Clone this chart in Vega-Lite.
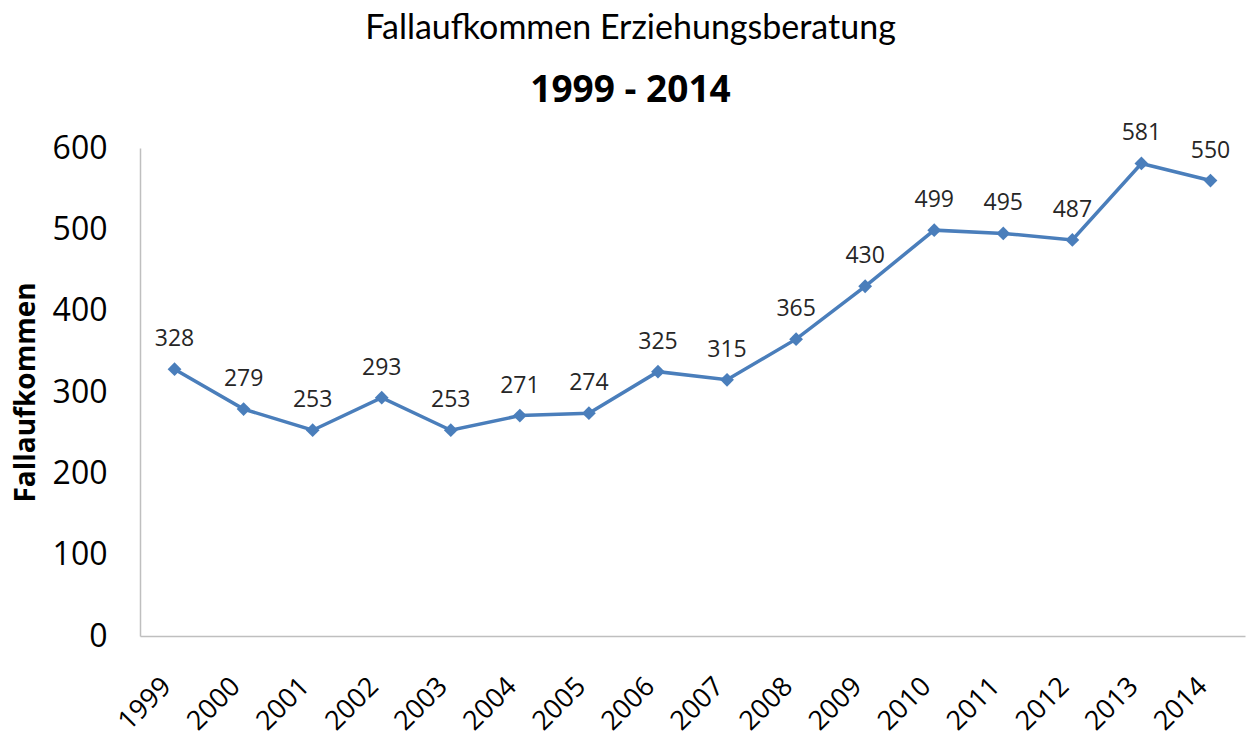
{
  "$schema": "https://vega.github.io/schema/vega-lite/v6.json",
  "autosize": {"type": "none"},
  "width": 1105,
  "height": 488,
  "padding": {"left": 140, "top": 148, "right": 7, "bottom": 102},
  "background": "white",
  "title": {
    "text": "Fallaufkommen Erziehungsberatung",
    "subtitle": "1999 - 2014",
    "anchor": "middle",
    "frame": "group",
    "dx": -62,
    "offset": 13,
    "font": "Lato",
    "fontSize": 34,
    "fontWeight": "normal",
    "color": "black",
    "subtitleFont": "Open Sans",
    "subtitleFontSize": 37,
    "subtitleFontWeight": "bold",
    "subtitleColor": "black",
    "subtitlePadding": 27
  },
  "data": {
    "values": [
      {"Jahr": "1999", "Fallaufkommen": 328, "Label": "328"},
      {"Jahr": "2000", "Fallaufkommen": 279, "Label": "279"},
      {"Jahr": "2001", "Fallaufkommen": 253, "Label": "253"},
      {"Jahr": "2002", "Fallaufkommen": 293, "Label": "293"},
      {"Jahr": "2003", "Fallaufkommen": 253, "Label": "253"},
      {"Jahr": "2004", "Fallaufkommen": 271, "Label": "271"},
      {"Jahr": "2005", "Fallaufkommen": 274, "Label": "274"},
      {"Jahr": "2006", "Fallaufkommen": 325, "Label": "325"},
      {"Jahr": "2007", "Fallaufkommen": 315, "Label": "315"},
      {"Jahr": "2008", "Fallaufkommen": 365, "Label": "365"},
      {"Jahr": "2009", "Fallaufkommen": 430, "Label": "430"},
      {"Jahr": "2010", "Fallaufkommen": 499, "Label": "499"},
      {"Jahr": "2011", "Fallaufkommen": 495, "Label": "495"},
      {"Jahr": "2012", "Fallaufkommen": 487, "Label": "487"},
      {"Jahr": "2013", "Fallaufkommen": 581, "Label": "581"},
      {"Jahr": "2014", "Fallaufkommen": 560, "Label": "550"}
    ]
  },
  "encoding": {
    "x": {
      "field": "Jahr",
      "type": "ordinal",
      "scale": {"type": "point", "padding": 0.5},
      "axis": {
        "title": null,
        "labelAngle": -45,
        "labelAlign": "right",
        "labelBaseline": "middle",
        "labelFont": "Open Sans",
        "labelFontSize": 27,
        "labelColor": "black",
        "labelPadding": 46,
        "labelOffset": -8,
        "ticks": false,
        "domainColor": "#BFBFBF",
        "domainWidth": 1.5,
        "grid": false
      }
    },
    "y": {
      "field": "Fallaufkommen",
      "type": "quantitative",
      "scale": {"domain": [0, 600], "nice": false},
      "axis": {
        "values": [0, 100, 200, 300, 400, 500, 600],
        "title": "Fallaufkommen",
        "titleFont": "Open Sans",
        "titleFontSize": 28,
        "titleFontWeight": "bold",
        "titleColor": "black",
        "titlePadding": 12,
        "labelFont": "Open Sans",
        "labelFontSize": 32,
        "labelColor": "black",
        "labelPadding": 33,
        "ticks": false,
        "grid": false,
        "domainColor": "#BFBFBF",
        "domainWidth": 1.5
      }
    }
  },
  "layer": [
    {
      "mark": {"type": "line", "color": "#4A7EBB", "strokeWidth": 3.5}
    },
    {
      "mark": {"type": "point", "shape": "diamond", "filled": true, "color": "#4A7EBB", "size": 190, "opacity": 1}
    },
    {
      "mark": {"type": "text", "dy": -30, "font": "Open Sans", "fontSize": 23, "color": "#262626"},
      "encoding": {"text": {"field": "Label"}}
    }
  ],
  "config": {"view": {"stroke": null}}
}
